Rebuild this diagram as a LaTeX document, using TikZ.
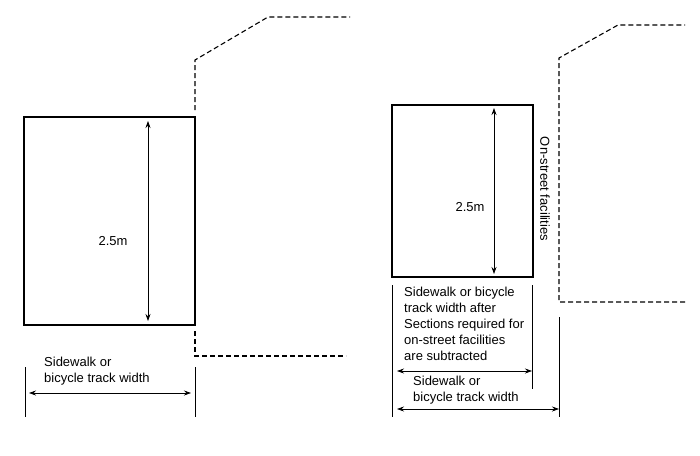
\documentclass[tikz,border=0pt]{standalone}
\usepackage{fontspec}
\setmainfont{Liberation Sans}
\usetikzlibrary{arrows.meta}

\begin{document}
\begin{tikzpicture}[x=1pt, y=-1pt,
  box/.style={line width=1.4pt},
  kerb/.style={line width=1.1pt, dash pattern=on 5pt off 3pt},
  dim/.style={line width=0.7pt, {Stealth[length=7pt,width=5pt]}-{Stealth[length=7pt,width=5pt]}},
  tick/.style={line width=0.7pt},
  lbl/.style={font=\fontsize{13}{16}\selectfont, align=left, inner sep=0pt}]

  \useasboundingbox (0,0) rectangle (700,455);

  %% left panel
  \coordinate (lnw) at (24,117);
  \coordinate (lse) at (195,325);
  \draw[box] (lnw) rectangle (lse);

  \coordinate (lht) at (148,121);
  \coordinate (lhb) at (148,321);
  \draw[dim] (lht) -- (lhb); % height
  \node[lbl, anchor=center] (lh) at (113,241) {2.5m};

  \coordinate (lk1) at (195,110);
  \coordinate (lk2) at (195,60);
  \coordinate (lk3) at (268,17);
  \coordinate (lk4) at (350,17);
  \draw[kerb] (lk1) -- (lk2) -- (lk3) -- (lk4); % upper kerb

  \coordinate (lk5) at (195,331);
  \coordinate (lk6) at (195,356);
  \coordinate (lk7) at (346,356);
  \draw[kerb] (lk5) -- (lk6) -- (lk7); % lower kerb

  \coordinate (lt1) at (25,367);
  \coordinate (lt2) at (25,417);
  \coordinate (lt3) at (195,367);
  \coordinate (lt4) at (195,417);
  \draw[tick] (lt1) -- (lt2);
  \draw[tick] (lt3) -- (lt4);

  \coordinate (lw1) at (29,393);
  \coordinate (lw2) at (191,393);
  \draw[dim] (lw1) -- (lw2); % width
  \node[lbl, anchor=north west] (lwt) at (44,357) {Sidewalk or\\bicycle track width};

  %% right panel
  \coordinate (rnw) at (392,105);
  \coordinate (rse) at (533,277);
  \draw[box] (rnw) rectangle (rse);

  \coordinate (rht) at (494,108);
  \coordinate (rhb) at (494,274);
  \draw[dim] (rht) -- (rhb); % height
  \node[lbl, anchor=center] (rh) at (470,207) {2.5m};

  \node[lbl, anchor=center, rotate=-90] (ros) at (545,189) {On-street facilities};

  \coordinate (rk1) at (559,302);
  \coordinate (rk2) at (559,58);
  \coordinate (rk3) at (618,25);
  \coordinate (rk4) at (685,25);
  \coordinate (rk5) at (685,302);
  \draw[kerb] (rk5) -- (rk1) -- (rk2) -- (rk3) -- (rk4); % kerb

  \coordinate (rt1) at (392,285);
  \coordinate (rt2) at (392,417);
  \coordinate (rt3) at (532,285);
  \coordinate (rt4) at (532,389);
  \coordinate (rt5) at (559,317);
  \coordinate (rt6) at (559,417);
  \draw[tick] (rt1) -- (rt2);
  \draw[tick] (rt3) -- (rt4);
  \draw[tick] (rt5) -- (rt6);

  \coordinate (rw1) at (397,371);
  \coordinate (rw2) at (532,371);
  \draw[dim] (rw1) -- (rw2); % net width
  \node[lbl, anchor=north west] (rwt) at (404,287)
    {Sidewalk or bicycle\\track width after\\Sections required for\\on-street facilities\\are subtracted};

  \coordinate (rv1) at (397,409);
  \coordinate (rv2) at (559,409);
  \draw[dim] (rv1) -- (rv2); % full width
  \node[lbl, anchor=north west] (rvt) at (413,376) {Sidewalk or\\bicycle track width};

\end{tikzpicture}
\end{document}
